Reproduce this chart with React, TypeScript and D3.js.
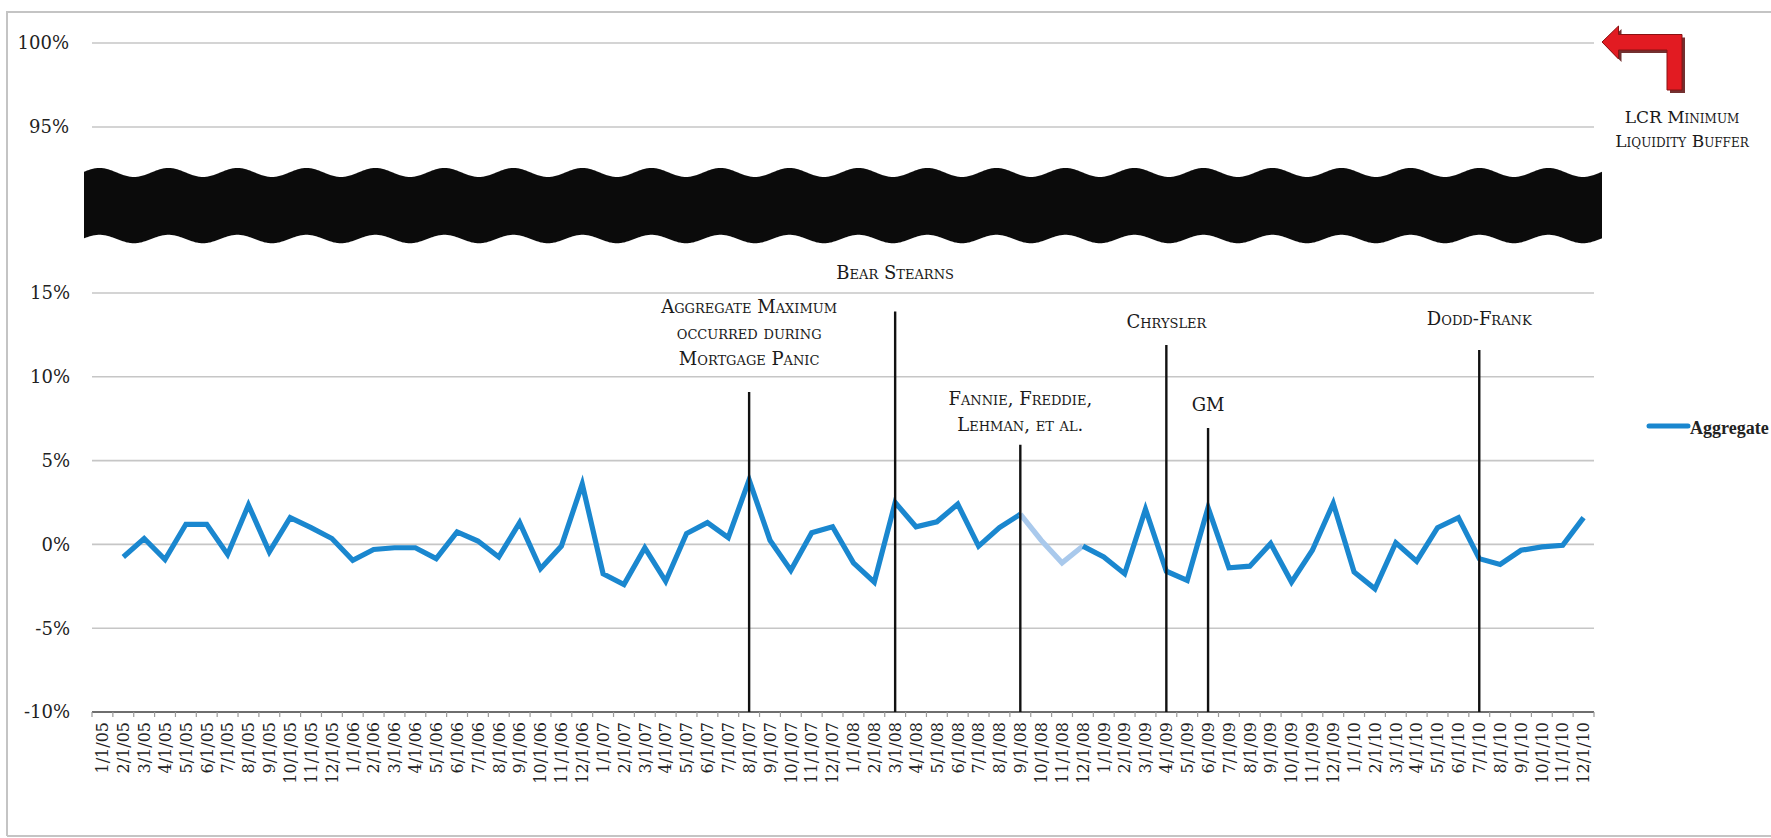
import React from 'react';
import * as d3 from 'd3';

const categories = [
  '1/1/05','2/1/05','3/1/05','4/1/05','5/1/05','6/1/05','7/1/05','8/1/05','9/1/05','10/1/05','11/1/05','12/1/05',
  '1/1/06','2/1/06','3/1/06','4/1/06','5/1/06','6/1/06','7/1/06','8/1/06','9/1/06','10/1/06','11/1/06','12/1/06',
  '1/1/07','2/1/07','3/1/07','4/1/07','5/1/07','6/1/07','7/1/07','8/1/07','9/1/07','10/1/07','11/1/07','12/1/07',
  '1/1/08','2/1/08','3/1/08','4/1/08','5/1/08','6/1/08','7/1/08','8/1/08','9/1/08','10/1/08','11/1/08','12/1/08',
  '1/1/09','2/1/09','3/1/09','4/1/09','5/1/09','6/1/09','7/1/09','8/1/09','9/1/09','10/1/09','11/1/09','12/1/09',
  '1/1/10','2/1/10','3/1/10','4/1/10','5/1/10','6/1/10','7/1/10','8/1/10','9/1/10','10/1/10','11/1/10','12/1/10',
];

// Aggregate monthly change, percent
const aggregate: (number | null)[] = [
  null, -0.75, 0.35, -0.9, 1.2, 1.2, -0.6, 2.35, -0.45, 1.6, 1.0, 0.35,
  -0.95, -0.3, -0.2, -0.2, -0.85, 0.75, 0.2, -0.75, 1.3, -1.45, -0.1, 3.6,
  -1.75, -2.4, -0.2, -2.2, 0.65, 1.3, 0.4, 3.85, 0.25, -1.55, 0.7, 1.05,
  -1.1, -2.25, 2.5, 1.05, 1.35, 2.4, -0.1, 1.0, 1.8, 0.25, -1.1, -0.1,
  -0.75, -1.75, 2.1, -1.6, -2.15, 2.2, -1.4, -1.3, 0.05, -2.25, -0.35, 2.45,
  -1.65, -2.65, 0.1, -1.0, 1.0, 1.6, -0.85, -1.2, -0.35, -0.15, -0.05, 1.6,
];

const fadedStart = '9/1/08';
const fadedEnd = '12/1/08';

const upperTicks = [100, 95];
const lowerTicks = [15, 10, 5, 0, -5, -10];

const events = [
  { date: '8/1/07', top: 9.1, label: ['Aggregate Maximum', 'occurred during', 'Mortgage Panic'] },
  { date: '3/1/08', top: 13.9, label: ['Bear Stearns'] },
  { date: '9/1/08', top: 5.95, label: ['Fannie, Freddie,', 'Lehman, et al.'] },
  { date: '4/1/09', top: 11.9, label: ['Chrysler'] },
  { date: '6/1/09', top: 6.95, label: ['GM'] },
  { date: '7/1/10', top: 11.6, label: ['Dodd-Frank'] },
];

const seriesName = 'Aggregate';
const bufferLabel = ['LCR Minimum', 'Liquidity Buffer'];

// layout (label vertical placement, in % of the lower scale)
const labelLevel: Record<string, number> = {
  '8/1/07': 14.17, '3/1/08': 16.2, '9/1/08': 8.68, '4/1/09': 13.28, '6/1/09': 8.32, '7/1/10': 13.5,
};

const W = 1771;
const H = 838;
const X0 = 92;
const X1 = 1594;
const SERIF = "'DejaVu Serif', 'Liberation Serif', serif";
const BLUE = '#1a87cf';
const LIGHT = '#a9c9ec';

export default function App() {
  const x = d3.scaleBand<string>().domain(categories).range([X0, X1]);
  const cx = (c: string) => (x(c) as number) + x.bandwidth() / 2;
  const yTop = d3.scaleLinear().domain([95, 100]).range([127, 43]);
  const y = d3.scaleLinear().domain([-10, 15]).range([712, 293]);

  const pts = categories.map((c, i) => ({ c, i, v: aggregate[i] }));
  const iFs = categories.indexOf(fadedStart);
  const iFe = categories.indexOf(fadedEnd);
  const line = d3
    .line<{ c: string; v: number | null }>()
    .defined((d) => d.v !== null)
    .x((d) => cx(d.c))
    .y((d) => y(d.v as number));
  const seg1 = line(pts.filter((p) => p.i <= iFs)) || '';
  const segF = line(pts.filter((p) => p.i >= iFs && p.i <= iFe)) || '';
  const seg2 = line(pts.filter((p) => p.i >= iFe)) || '';

  // decorative axis break band
  const bx0 = 84;
  const bx1 = 1602;
  const period = 69;
  const phase0 = 99.5;
  const topE: [number, number][] = [];
  const botE: [number, number][] = [];
  for (let xx = bx0; xx <= bx1; xx += 1) {
    const a = (2 * Math.PI * (xx - phase0)) / period;
    topE.push([xx, 172.5 - 4.5 * Math.cos(a)]);
    botE.push([xx, 239 - 4.2 * Math.cos(a)]);
  }
  const bandPath =
    'M' + topE.map((p) => p.join(',')).join('L') + 'L' + botE.slice().reverse().map((p) => p.join(',')).join('L') + 'Z';

  const arrow = [
    [1602, 42], [1618.5, 26], [1618.5, 34.5], [1682, 34.5], [1682, 90], [1667, 90], [1667, 50], [1618.5, 50], [1618.5, 59],
  ];
  const arrowPts = arrow.map((p) => p.join(',')).join(' ');
  const shadowPts = arrow.map((p) => [p[0] + 3, p[1] + 3].join(',')).join(' ');

  return (
    <div style={{ position: 'absolute', left: 0, top: 0, width: W, height: H, background: '#fff' }}>
      <svg width={W} height={H} style={{ display: 'block' }}>
        <rect x={0} y={0} width={W} height={H} fill="#fff" />
        {/* frame */}
        <path d={`M7,836 L7,12 L${W + 2},12`} fill="none" stroke="#c4c4c4" strokeWidth={2} />
        <line x1={7} x2={W} y1={836} y2={836} stroke="#c4c4c4" strokeWidth={2} />

        {/* gridlines */}
        {upperTicks.map((t) => (
          <line key={'u' + t} x1={X0} x2={X1} y1={yTop(t)} y2={yTop(t)} stroke="#c6c6c6" strokeWidth={1.6} />
        ))}
        {lowerTicks.filter((t) => t !== -10).map((t) => (
          <line key={'l' + t} x1={X0} x2={X1} y1={y(t)} y2={y(t)} stroke="#c6c6c6" strokeWidth={1.6} />
        ))}
        {/* x axis */}
        <line x1={X0} x2={X1} y1={y(-10)} y2={y(-10)} stroke="#6e6e6e" strokeWidth={2.2} />
        {categories.concat(['__end']).map((c, i) => {
          const xx = X0 + i * x.step();
          return <line key={'t' + i} x1={xx} x2={xx} y1={y(-10)} y2={y(-10) + 5} stroke="#9a9a9a" strokeWidth={1.2} />;
        })}

        {/* y labels */}
        <g fontFamily={SERIF} fontSize={18} fill="#222" textAnchor="end">
          {upperTicks.map((t) => (
            <text key={'ul' + t} x={69} y={yTop(t)} dy="0.36em">{t}%</text>
          ))}
          {lowerTicks.map((t) => (
            <text key={'ll' + t} x={70} y={y(t)} dy="0.36em">{t}%</text>
          ))}
        </g>

        {/* x labels */}
        <g fontFamily={SERIF} fontSize={16} fill="#222" textAnchor="end">
          {categories.map((c) => (
            <text key={'xl' + c} transform={`translate(${cx(c)},${y(-10) + 10}) rotate(-90)`} dy="0.36em">{c}</text>
          ))}
        </g>

        {/* axis break band */}
        <path d={bandPath} fill="#0b0b0b" />

        {/* series */}
        <path d={seg1} fill="none" stroke={BLUE} strokeWidth={5.2} strokeLinejoin="miter" />
        <path d={segF} fill="none" stroke={LIGHT} strokeWidth={5.2} strokeLinejoin="miter" />
        <path d={seg2} fill="none" stroke={BLUE} strokeWidth={5.2} strokeLinejoin="miter" />

        {/* event lines */}
        {events.map((e) => (
          <line key={'ev' + e.date} x1={cx(e.date)} x2={cx(e.date)} y1={y(e.top)} y2={y(-10)} stroke="#111" strokeWidth={2.4} />
        ))}

        {/* event labels */}
        <g fontFamily={SERIF} fontSize={18} fill="#1a1a1a" textAnchor="middle" style={{ fontVariant: 'small-caps' }}>
          {events.map((e) =>
            e.label.map((ln, k) => (
              <text key={'el' + e.date + k} x={cx(e.date)} y={y(labelLevel[e.date]) + k * 26} dy="0.36em">{ln}</text>
            ))
          )}
        </g>
        <g fontFamily={SERIF} fontSize={17} fill="#1a1a1a" textAnchor="middle" style={{ fontVariant: 'small-caps' }}>
          {bufferLabel.map((ln, k) => (
            <text key={'bl' + k} x={1682} y={117 + k * 24} dy="0.36em">{ln}</text>
          ))}
        </g>

        {/* red arrow */}
        <polygon points={shadowPts} fill="#5b0c0c" opacity={0.85} />
        <polygon points={arrowPts} fill="#e21b22" stroke="#8a1212" strokeWidth={1} />

        {/* legend */}
        <line x1={1649} x2={1688} y1={426} y2={426} stroke={BLUE} strokeWidth={5} strokeLinecap="round" />
        <text x={1690} y={428} dy="0.36em" fontFamily="'Liberation Serif', serif" fontSize={18} fontWeight="bold" fill="#222">{seriesName}</text>
      </svg>
    </div>
  );
}
